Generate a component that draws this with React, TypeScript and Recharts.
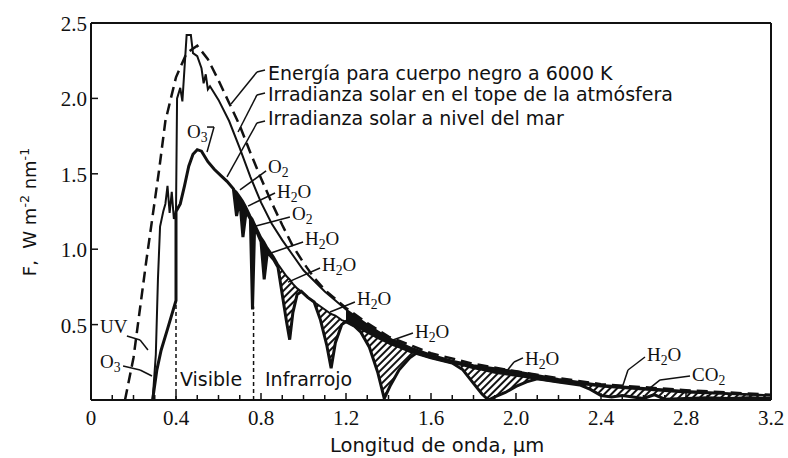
import React from "react";
import { ComposedChart, Line, Area, XAxis, YAxis, ReferenceLine } from "recharts";

// wavelength in µm, irradiance in W m-2 nm-1
const bbWave = [0.16, 0.2, 0.23, 0.26, 0.29, 0.32, 0.35, 0.4, 0.45, 0.5, 0.55, 0.6, 0.65, 0.7, 0.75, 0.8, 0.85, 0.9, 0.95, 1.0, 1.05, 1.1, 1.2, 1.3, 1.4, 1.6, 1.8, 2.0, 2.2, 2.4, 2.6, 2.8, 3.0, 3.2];
const bbFlux = [0, 0.28, 0.6, 0.92, 1.22, 1.52, 1.85, 2.14, 2.3, 2.35, 2.26, 2.12, 1.97, 1.82, 1.64, 1.47, 1.31, 1.16, 1.02, 0.91, 0.81, 0.73, 0.61, 0.51, 0.42, 0.31, 0.24, 0.19, 0.145, 0.105, 0.085, 0.065, 0.05, 0.035];

const toaWave = [0.29, 0.305, 0.315, 0.325, 0.34, 0.35, 0.36, 0.37, 0.38, 0.39, 0.4, 0.405, 0.42, 0.43, 0.44, 0.45, 0.47, 0.48, 0.5, 0.52, 0.53, 0.54, 0.55, 0.56, 0.6, 0.65, 0.7, 0.75, 0.8, 0.85, 0.9, 0.95, 1.0, 1.1, 1.2, 1.3, 1.4, 1.5, 1.6, 1.7, 1.8, 1.9, 2.0, 2.2, 2.4, 2.6, 2.8, 3.0, 3.2];
const toaFlux = [0, 0.3, 0.8, 1.15, 1.25, 1.3, 1.42, 1.24, 1.38, 1.2, 1.25, 2.0, 2.07, 1.98, 2.2, 2.42, 2.42, 2.3, 2.28, 2.2, 2.1, 2.16, 2.06, 2.08, 1.99, 1.85, 1.67, 1.48, 1.31, 1.17, 1.06, 0.96, 0.86, 0.72, 0.6, 0.5, 0.41, 0.35, 0.3, 0.26, 0.23, 0.21, 0.19, 0.14, 0.1, 0.08, 0.06, 0.045, 0.03];

const seaWave = [0.29, 0.31, 0.33, 0.36, 0.4, 0.4, 0.42, 0.44, 0.46, 0.48, 0.5, 0.52, 0.55, 0.58, 0.61, 0.64, 0.67, 0.685, 0.7, 0.715, 0.73, 0.75, 0.76, 0.77, 0.8, 0.815, 0.83, 0.86, 0.88, 0.9, 0.92, 0.935, 0.95, 0.97, 0.99, 1.02, 1.05, 1.08, 1.11, 1.13, 1.15, 1.18, 1.2, 1.24, 1.27, 1.31, 1.35, 1.38, 1.41, 1.45, 1.5, 1.53, 1.6, 1.7, 1.75, 1.8, 1.84, 1.87, 1.9, 1.95, 2.0, 2.05, 2.1, 2.2, 2.3, 2.35, 2.4, 2.45, 2.5, 2.55, 2.6, 2.65, 2.7, 2.8, 2.9, 3.0, 3.1, 3.2];
// measured at sea level
const seaFlux = [0, 0.2, 0.33, 0.47, 0.66, 1.25, 1.3, 1.42, 1.55, 1.63, 1.66, 1.65, 1.58, 1.53, 1.49, 1.45, 1.4, 1.22, 1.33, 1.08, 1.25, 1.2, 0.6, 1.15, 1.05, 0.8, 0.98, 0.93, 0.88, 0.7, 0.52, 0.4, 0.58, 0.7, 0.72, 0.68, 0.65, 0.53, 0.36, 0.21, 0.38, 0.5, 0.52, 0.49, 0.45, 0.35, 0.18, 0.01, 0.1, 0.2, 0.28, 0.31, 0.28, 0.245, 0.2, 0.11, 0.04, 0, 0.02, 0.05, 0.09, 0.12, 0.14, 0.12, 0.1, 0.07, 0.03, 0.02, 0.03, 0.02, 0.01, 0.035, 0.005, 0.01, 0.015, 0.01, 0.015, 0.01];
// sea level without gas absorption (top of the shaded bands)
const seaClear = [0, 0.2, 0.33, 0.47, 0.66, 1.25, 1.3, 1.42, 1.55, 1.63, 1.66, 1.65, 1.58, 1.53, 1.49, 1.45, 1.4, 1.38, 1.35, 1.32, 1.28, 1.22, 1.2, 1.17, 1.08, 1.05, 1.01, 0.95, 0.9, 0.86, 0.82, 0.8, 0.77, 0.74, 0.72, 0.68, 0.65, 0.62, 0.59, 0.57, 0.56, 0.53, 0.52, 0.49, 0.47, 0.44, 0.41, 0.39, 0.37, 0.35, 0.32, 0.31, 0.28, 0.245, 0.23, 0.21, 0.2, 0.19, 0.18, 0.17, 0.16, 0.15, 0.14, 0.12, 0.105, 0.1, 0.09, 0.085, 0.08, 0.075, 0.07, 0.065, 0.06, 0.05, 0.045, 0.04, 0.035, 0.03];
// upper edge of the dark band, from 1.2 µm on (same wavelengths as seaWave)
const bandTop = [0.6, 0.56, 0.53, 0.49, 0.46, 0.43, 0.41, 0.385, 0.35, 0.335, 0.3, 0.26, 0.245, 0.23, 0.22, 0.215, 0.21, 0.2, 0.19, 0.18, 0.165, 0.14, 0.12, 0.11, 0.1, 0.095, 0.09, 0.085, 0.08, 0.075, 0.07, 0.06, 0.052, 0.045, 0.038, 0.03];

const xTicks = [0, 0.1, 0.2, 0.3, 0.4, 0.5, 0.6, 0.7, 0.8, 0.9, 1.0, 1.1, 1.2, 1.3, 1.4, 1.5, 1.6, 1.7, 1.8, 1.9, 2.0, 2.1, 2.2, 2.3, 2.4, 2.5, 2.6, 2.7, 2.8, 2.9, 3.0, 3.1, 3.2];
const xLabels = ["0", "0.4", "0.8", "1.2", "1.6", "2.0", "2.4", "2.8", "3.2"];
const yTicks = [0.5, 1.0, 1.5, 2.0, 2.5];

const bbRows = bbWave.map((x, i) => ({ x, f: bbFlux[i] }));
const toaRows = toaWave.map((x, i) => ({ x, f: toaFlux[i] }));
const seaRows = seaWave.map((x, i) => ({ x, sea: seaFlux[i], clear: seaClear[i] }));
const darkRows = seaRows.filter((r) => r.x >= 0.67 && r.x <= 0.86);
const hatchRows = seaRows.filter((r) => r.x >= 0.86);
const clearRows = seaRows.filter((r) => r.x >= 0.67);
const bandRows = seaRows.filter((r) => r.x >= 1.2).map((r, i) => ({ ...r, top: bandTop[i] }));

// leader lines, [wavelength, flux] points
const leaders: number[][][] = [
  [[0.819, 2.188], [0.781, 2.175], [0.659, 1.963]],
  [[0.819, 2.036], [0.781, 2.023], [0.692, 1.777]],
  [[0.819, 1.85], [0.781, 1.837], [0.64, 1.479]],
  [[0.546, 1.81], [0.579, 1.81], [0.546, 1.645]],
  [[0.824, 1.519], [0.701, 1.393]],
  [[0.866, 1.373], [0.739, 1.286]],
  [[0.936, 1.214], [0.776, 1.154]],
  [[0.998, 1.048], [0.833, 0.968]],
  [[1.078, 0.875], [0.927, 0.782]],
  [[1.242, 0.65], [1.125, 0.584]],
  [[1.515, 0.444], [1.407, 0.391]],
  [[2.033, 0.279], [1.991, 0.252], [1.953, 0.186]],
  [[2.607, 0.285], [2.527, 0.199], [2.499, 0.08]],
  [[2.819, 0.159], [2.678, 0.133], [2.631, 0.08]],
  [[0.169, 0.424], [0.231, 0.398], [0.268, 0.332]],
  [[0.151, 0.225], [0.231, 0.199], [0.287, 0.159]],
];

const serif = '"Liberation Serif", "DejaVu Serif", serif';
const sans = '"DejaVu Sans", "Noto Sans", sans-serif';

const BottomTick = (props: any) => {
  const { x, y, payload } = props;
  const v = payload.value;
  const major = Math.round(v * 10) % 4 === 0;
  const label = xLabels[Math.round(v * 10) / 4];
  return (
    <g>
      <line x1={x} y1={y} x2={x} y2={y - (major ? 7 : 5)} stroke="#111" strokeWidth={1.5} />
      {major && (
        <text x={x} y={y + 18} textAnchor="middle" dominantBaseline="central" fontFamily={serif} fontSize={21} fill="#111">
          {label}
        </text>
      )}
    </g>
  );
};

const TopTick = (props: any) => {
  const { x, y } = props;
  return <line x1={x} y1={y} x2={x} y2={y + 5} stroke="#111" strokeWidth={1.5} />;
};

const LeftTick = (props: any) => {
  const { x, y, payload } = props;
  return (
    <g>
      <line x1={x} y1={y} x2={x + 7} y2={y} stroke="#111" strokeWidth={1.5} />
      <text x={x - 4} y={y + 1} textAnchor="end" dominantBaseline="central" fontFamily={serif} fontSize={21} fill="#111">
        {payload.value.toFixed(1)}
      </text>
    </g>
  );
};

const Sub = ({ children }: any) => (
  <span style={{ fontSize: "0.72em", position: "relative", top: "0.26em", lineHeight: 0 }}>{children}</span>
);

function Note({ x, y, size = 19, font = serif, children }: any) {
  return (
    <div
      style={{
        position: "absolute",
        left: x,
        top: y,
        fontFamily: font,
        fontSize: size,
        lineHeight: 1,
        whiteSpace: "nowrap",
        color: "#111",
      }}
    >
      {children}
    </div>
  );
}

const H2O = () => (
  <>
    H<Sub>2</Sub>O
  </>
);

export default function App() {
  return (
    <div style={{ position: "absolute", left: 0, top: 0, width: 788, height: 458, background: "#fff", overflow: "hidden" }}>
      <ComposedChart width={788} height={458} margin={{ top: 22, right: 16, bottom: 0, left: 0 }}>
        <defs>
          <pattern id="hatch" patternUnits="userSpaceOnUse" width={5} height={5} patternTransform="rotate(45)">
            <rect width={5} height={5} fill="#fff" />
            <line x1={1} y1={0} x2={1} y2={5} stroke="#111" strokeWidth={2} />
          </pattern>
        </defs>
        <XAxis
          type="number"
          dataKey="x"
          domain={[0, 3.2]}
          ticks={xTicks}
          interval={0}
          tickSize={0}
          tickMargin={0}
          tickLine={false}
          tick={<BottomTick />}
          axisLine={{ stroke: "#111", strokeWidth: 2 }}
          height={58}
          allowDataOverflow
        />
        <XAxis
          xAxisId="top"
          orientation="top"
          type="number"
          domain={[0, 3.2]}
          ticks={xTicks}
          interval={0}
          tickSize={0}
          tickMargin={0}
          tickLine={false}
          tick={<TopTick />}
          axisLine={{ stroke: "#111", strokeWidth: 2 }}
          height={1}
        />
        <YAxis
          type="number"
          domain={[0, 2.5]}
          ticks={yTicks}
          interval={0}
          tickSize={0}
          tickMargin={0}
          tickLine={false}
          tick={<LeftTick />}
          axisLine={{ stroke: "#111", strokeWidth: 2 }}
          width={91}
          allowDataOverflow
        />
        <YAxis yAxisId="r" orientation="right" type="number" domain={[0, 2.5]} tick={false} tickLine={false} axisLine={{ stroke: "#111", strokeWidth: 2 }} width={1} />

        <Area data={darkRows} dataKey={(d: any) => [d.sea, d.clear]} type="linear" stroke="none" fill="#111" fillOpacity={1} isAnimationActive={false} />
        <Area data={hatchRows} dataKey={(d: any) => [d.sea, d.clear]} type="linear" stroke="none" fill="url(#hatch)" fillOpacity={1} isAnimationActive={false} />
        <Area data={bandRows} dataKey={(d: any) => [d.clear, d.top]} type="linear" stroke="none" fill="#111" fillOpacity={1} isAnimationActive={false} />

        <Line data={bbRows} dataKey="f" type="linear" stroke="#111" strokeWidth={2.5} strokeDasharray="11 6" dot={false} activeDot={false} isAnimationActive={false} />
        <Line data={toaRows} dataKey="f" type="linear" stroke="#111" strokeWidth={2} dot={false} activeDot={false} isAnimationActive={false} />
        <Line data={clearRows} dataKey="clear" type="linear" stroke="#111" strokeWidth={2} dot={false} activeDot={false} isAnimationActive={false} />
        <Line data={seaRows} dataKey="sea" type="linear" stroke="#111" strokeWidth={3} dot={false} activeDot={false} isAnimationActive={false} />

        <ReferenceLine segment={[{ x: 0.4, y: 0 }, { x: 0.4, y: 0.66 }]} stroke="#111" strokeWidth={1.5} strokeDasharray="4 3" />
        <ReferenceLine segment={[{ x: 0.765, y: 0 }, { x: 0.765, y: 0.62 }]} stroke="#111" strokeWidth={1.5} strokeDasharray="4 3" />
        {leaders.flatMap((pts, i) =>
          pts.slice(1).map((p, j) => (
            <ReferenceLine
              key={`${i}-${j}`}
              segment={[{ x: pts[j][0], y: pts[j][1] }, { x: p[0], y: p[1] }]}
              stroke="#111"
              strokeWidth={1.5}
            />
          ))
        )}
      </ComposedChart>

      <Note x={268} y={64} font={sans}>Energía para cuerpo negro a 6000 K</Note>
      <Note x={268} y={85} font={sans}>Irradianza solar en el tope de la atmósfera</Note>
      <Note x={268} y={109} font={sans}>Irradianza solar a nivel del mar</Note>

      <Note x={187} y={122}>O<Sub>3</Sub></Note>
      <Note x={268} y={157}>O<Sub>2</Sub></Note>
      <Note x={277} y={182}><H2O /></Note>
      <Note x={292} y={204}>O<Sub>2</Sub></Note>
      <Note x={305} y={229}><H2O /></Note>
      <Note x={322} y={255}><H2O /></Note>
      <Note x={357} y={289}><H2O /></Note>
      <Note x={415} y={322}><H2O /></Note>
      <Note x={525} y={349}><H2O /></Note>
      <Note x={647} y={345}><H2O /></Note>
      <Note x={692} y={365}>CO<Sub>2</Sub></Note>
      <Note x={100} y={317}>UV</Note>
      <Note x={100} y={352}>O<Sub>3</Sub></Note>

      <Note x={180} y={370} font={sans}>Visible</Note>
      <Note x={265} y={370} font={sans}>Infrarrojo</Note>

      <Note x={330} y={436} size={19.5} font={sans}>Longitud de onda, µm</Note>
      <div
        style={{
          position: "absolute",
          left: 29,
          top: 212,
          transform: "translate(-50%, -50%) rotate(-90deg)",
          fontFamily: sans,
          fontSize: 18,
          lineHeight: 1,
          whiteSpace: "nowrap",
          color: "#111",
        }}
      >
        F,&nbsp; W m<sup style={{ fontSize: "0.7em" }}>-2</sup> nm<sup style={{ fontSize: "0.7em" }}>-1</sup>
      </div>
    </div>
  );
}
